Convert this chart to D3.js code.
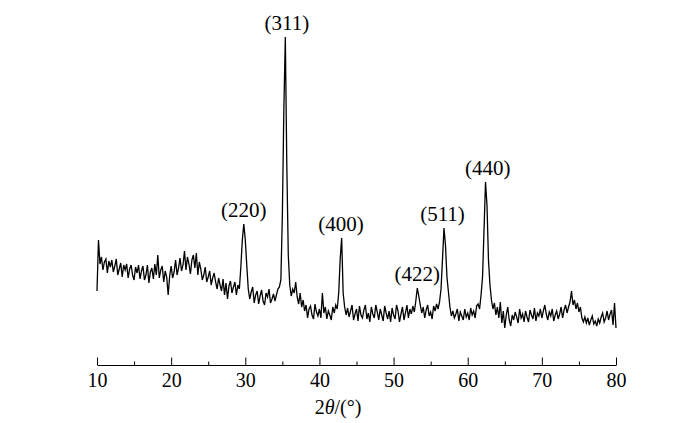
<!DOCTYPE html>
<html>
<head>
<meta charset="utf-8">
<script src="https://cdn.jsdelivr.net/npm/d3@7"></script>
<style>
  html, body { margin: 0; padding: 0; background: #fff; }
  svg { display: block; }
  text { font-family: "Liberation Serif", "Times New Roman", serif; fill: #000; }
</style>
</head>
<body>
<svg id="chart" width="700" height="423"></svg>
<script>
// ---- data ----
const angleStart = 10;      // 2θ of first sample (°)
const angleStep = 0.2;      // sampling step (°)
// intensity (counts) sampled every 0.2° from 10° to 80°
const intensity = [
  740, 1250, 1010, 1080, 950, 1030, 1060, 920, 1040, 980,     // 10.0-11.8
  1050, 930, 990, 1060, 900, 960, 1020, 880, 1000, 950,       // 12.0-13.8
  1010, 870, 960, 1000, 900, 850, 980, 920, 1000, 860,        // 14.0-15.8
  940, 990, 850, 900, 1000, 820, 930, 970, 860, 1010,         // 16.0-17.8
  900, 1100, 870, 950, 990, 830, 940, 880, 700, 890,          // 18.0-19.8
  990, 870, 930, 1050, 900, 970, 1070, 940, 1000, 1140,       // 20.0-21.8
  950, 1080, 1010, 910, 1050, 1100, 970, 1120, 900, 1030,     // 22.0-23.8
  960, 850, 900, 980, 830, 880, 940, 800, 870, 920,           // 24.0-25.8
  830, 760, 870, 800, 740, 860, 700, 820, 660, 790,           // 26.0-27.8
  840, 720, 780, 830, 700, 800, 760, 980, 1250, 1410,         // 28.0-29.8
  1250, 1000, 760, 660, 730, 780, 620, 700, 740, 610,         // 30.0-31.8
  690, 750, 640, 600, 720, 680, 760, 620, 660, 710,           // 32.0-33.8
  640, 700, 760, 780, 850, 1500, 2550, 3280, 2000, 1100,      // 34.0-35.8
  800, 690, 760, 720, 830, 680, 610, 720, 580, 650,           // 36.0-37.8
  540, 600, 470, 560, 590, 500, 460, 610, 530, 490,           // 38.0-39.8
  560, 470, 720, 520, 580, 460, 540, 500, 450, 580,           // 40.0-41.8
  520, 600, 560, 720, 1060, 1270, 720, 580, 500, 570,         // 42.0-43.8
  480, 540, 600, 450, 510, 560, 440, 590, 500, 470,           // 44.0-45.8
  550, 600, 460, 520, 430, 580, 510, 470, 600, 530,           // 46.0-47.8
  450, 560, 500, 440, 590, 520, 460, 540, 430, 570,           // 48.0-49.8
  500, 460, 600, 540, 430, 510, 580, 450, 520, 600,           // 50.0-51.8
  470, 560, 510, 590, 530, 640, 770, 690, 600, 520,           // 52.0-53.8
  580, 470, 550, 600, 490, 530, 460, 590, 540, 610,           // 54.0-55.8
  560, 630, 760, 1060, 1370, 1200, 880, 730, 580, 490,        // 56.0-57.8
  540, 470, 510, 560, 440, 530, 490, 450, 560, 480,           // 58.0-59.8
  520, 450, 570, 500, 540, 470, 590, 610, 560, 700,           // 60.0-61.8
  880, 1350, 1830, 1600, 1050, 800, 650, 560, 620, 500,       // 62.0-63.8
  580, 470, 630, 420, 540, 370, 500, 580, 450, 390,           // 64.0-65.8
  500, 450, 530, 480, 420, 560, 470, 510, 430, 540,           // 66.0-67.8
  480, 430, 550, 500, 460, 570, 440, 520, 490, 560,           // 68.0-69.8
  470, 540, 600, 510, 450, 530, 490, 560, 440, 500,           // 70.0-71.8
  540, 460, 510, 580, 470, 550, 600, 520, 580, 630,           // 72.0-73.8
  740, 600, 650, 560, 620, 530, 580, 470, 430, 480,           // 74.0-75.8
  420, 470, 400, 450, 490, 410, 440, 390, 460, 420,           // 76.0-77.8
  480, 520, 430, 470, 540, 450, 510, 550, 400, 620,           // 78.0-79.8
  370                                                         // 80.0
];
const majorTicks = [10, 20, 30, 40, 50, 60, 70, 80];
const minorTicks = [15, 25, 35, 45, 55, 65, 75];
const peakLabels = ["(220)", "(311)", "(400)", "(422)", "(511)", "(440)"];
const peakLabelAngles = [29.8, 35.6, 42.9, 53.2, 56.6, 62.7];
const peakLabelIntensity = [1410, 3280, 1270, 770, 1370, 1830];

// ---- chart ----
const svg = d3.select("#chart");
const x = d3.scaleLinear().domain([10, 80]).range([97, 616]);
const y = d3.scaleLinear().domain([0, 3300]).range([365, 35]);

const points = intensity.map((v, i) => [angleStart + i * angleStep, v]);

svg.append("path")
  .datum(points)
  .attr("fill", "none")
  .attr("stroke", "#000")
  .attr("stroke-width", 1.3)
  .attr("stroke-linejoin", "miter")
  .attr("d", d3.line().x(d => x(d[0])).y(d => y(d[1])));

// minor ticks
const minorAxis = svg.append("g")
  .attr("transform", "translate(0,365)")
  .call(d3.axisBottom(x).tickValues(minorTicks).tickSize(-3.5).tickSizeOuter(0).tickFormat(""));
minorAxis.select(".domain").remove();

// major axis
const axis = svg.append("g")
  .attr("transform", "translate(0,365)")
  .call(d3.axisBottom(x).tickValues(majorTicks).tickSize(-7.5).tickSizeOuter(0).tickPadding(8).tickFormat(d3.format("d")));
axis.selectAll("text")
  .style("font-family", "'Liberation Serif', 'Times New Roman', serif")
  .style("font-size", "20px")
  .attr("fill", "#000");
svg.selectAll(".domain, .tick line").attr("stroke", "#000").attr("stroke-width", 1);

// axis title
const title = svg.append("text")
  .attr("x", 338)
  .attr("y", 414)
  .attr("text-anchor", "middle")
  .style("font-size", "20px");
title.append("tspan").text("2");
title.append("tspan").style("font-style", "italic").text("θ");
title.append("tspan").text("/(°)");

// peak labels
svg.append("g").selectAll("text")
  .data(peakLabels)
  .join("text")
  .attr("x", (d, i) => x(peakLabelAngles[i]))
  .attr("y", (d, i) => y(peakLabelIntensity[i]) - 7)
  .attr("text-anchor", "middle")
  .style("font-size", "21px")
  .text(d => d);
</script>
</body>
</html>
